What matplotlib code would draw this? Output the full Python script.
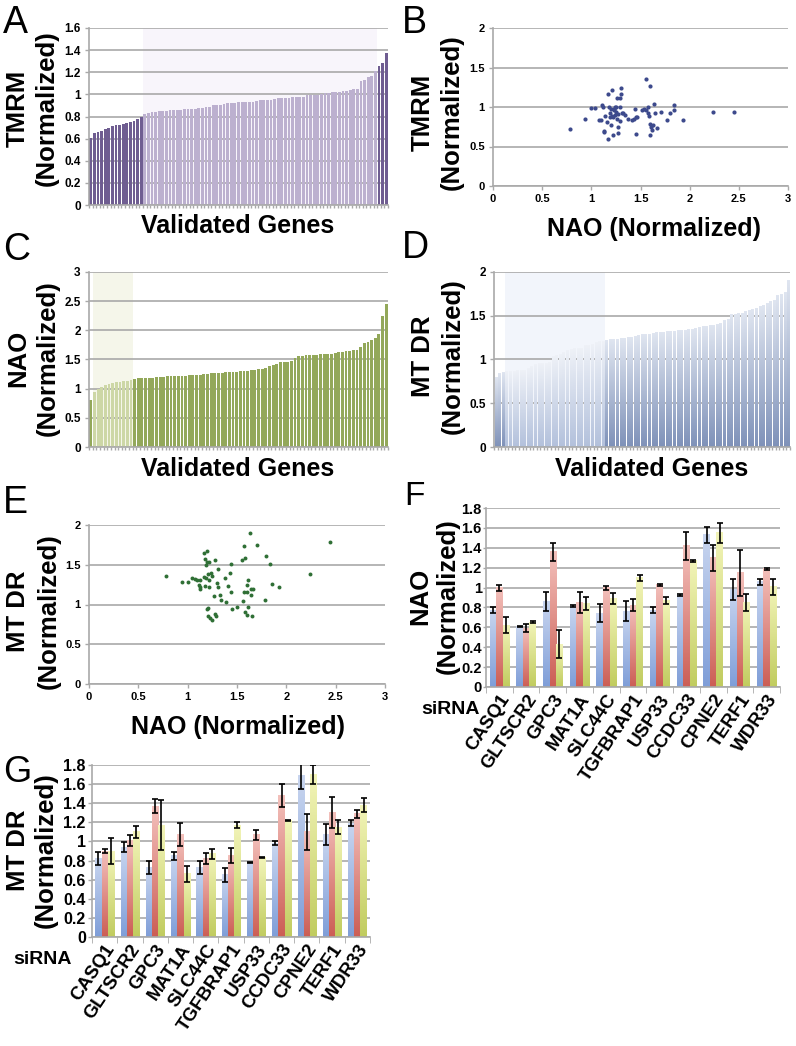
import numpy as np
import matplotlib
matplotlib.use('Agg')
import matplotlib.pyplot as plt
from matplotlib.colors import LinearSegmentedColormap
from matplotlib.ticker import FuncFormatter

plt.rcParams['font.family'] = ['Liberation Sans', 'DejaVu Sans']
plt.rcParams['font.weight'] = 'bold'

# ---------------- data ----------------
# Panel A: TMRM (sorted), groups: low / middle / high
tmrm_low = [0.61, 0.65, 0.66, 0.67, 0.69, 0.70, 0.71, 0.72, 0.72, 0.73, 0.74, 0.75, 0.76, 0.78, 0.80]
tmrm_mid = [0.82, 0.83, 0.84, 0.84, 0.85, 0.85, 0.85, 0.86, 0.86, 0.86,
            0.86, 0.87, 0.87, 0.87, 0.87, 0.88, 0.88, 0.89, 0.89, 0.90,
            0.90, 0.90, 0.91, 0.92, 0.92, 0.92, 0.93, 0.93, 0.93, 0.93,
            0.93, 0.94, 0.95, 0.95, 0.95, 0.95, 0.96, 0.97, 0.97, 0.97,
            0.97, 0.98, 0.98, 0.98, 0.98, 0.99, 0.99, 0.99, 0.99, 1.00,
            1.01, 1.01, 1.02, 1.02, 1.02, 1.03, 1.03, 1.04, 1.05, 1.05,
            1.12, 1.13, 1.16, 1.17, 1.21]
tmrm_high = [1.26, 1.28, 1.37]

# Panel C: NAO (sorted)
nao_low = [0.80]
nao_mid = [0.95, 1.00, 1.03, 1.06, 1.08, 1.10, 1.11, 1.12, 1.13, 1.13, 1.14]
nao_high = [1.17, 1.18, 1.18, 1.18, 1.19, 1.19, 1.20, 1.20, 1.20, 1.21,
            1.21, 1.21, 1.22, 1.22, 1.22, 1.23, 1.23, 1.24, 1.24, 1.25,
            1.25, 1.26, 1.26, 1.27, 1.27, 1.28, 1.28, 1.29, 1.29, 1.30,
            1.31, 1.31, 1.32, 1.32, 1.33, 1.34, 1.36, 1.39, 1.41, 1.43,
            1.45, 1.46, 1.46, 1.47, 1.53, 1.56, 1.56, 1.57, 1.57, 1.58,
            1.58, 1.59, 1.59, 1.59, 1.60, 1.61, 1.62, 1.63, 1.64, 1.65,
            1.66, 1.67, 1.72, 1.78, 1.80, 1.84, 1.86, 1.93, 2.24, 2.45]

# Panel D: MT DR (sorted)
mtdr_low = [0.80, 0.84, 0.85]
mtdr_mid = [0.86, 0.86, 0.86, 0.87, 0.87, 0.88, 0.90, 0.92, 0.94, 0.95,
            0.96, 0.96, 0.97, 1.04, 1.05, 1.06, 1.08, 1.10, 1.11, 1.12,
            1.12, 1.13, 1.16, 1.16, 1.17, 1.19, 1.20, 1.21]
mtdr_high = [1.22, 1.23, 1.23, 1.23, 1.24, 1.24, 1.25, 1.25, 1.26, 1.27,
             1.28, 1.28, 1.29, 1.30, 1.31, 1.31, 1.31, 1.32, 1.32, 1.32,
             1.33, 1.33, 1.33, 1.34, 1.34, 1.35, 1.37, 1.38, 1.38, 1.39,
             1.39, 1.40, 1.41, 1.44, 1.46, 1.51, 1.51, 1.52, 1.53, 1.55,
             1.56, 1.57, 1.58, 1.60, 1.62, 1.64, 1.66, 1.67, 1.73, 1.74,
             1.76, 1.90]

# Panel B: NAO vs TMRM
nao_b = [0.78, 0.94, 1.00, 1.04, 1.11, 1.12, 1.08, 1.10, 1.13, 1.13, 1.14, 1.17, 1.21,
         1.18, 1.19, 1.16, 1.17, 1.22, 1.20, 1.22, 1.23, 1.25, 1.24, 1.26, 1.27, 1.27,
         1.26, 1.29, 1.30, 1.30, 1.29, 1.29, 1.31, 1.34, 1.37, 1.41, 1.43, 1.44, 1.45,
         1.46, 1.45, 1.52, 1.54, 1.56, 1.56, 1.58, 1.58, 1.59, 1.60, 1.60, 1.61, 1.60,
         1.62, 1.63, 1.64, 1.65, 1.67, 1.71, 1.77, 1.80, 1.84, 1.84, 1.93, 2.24, 2.45,
         1.20, 1.23, 1.25, 1.19, 1.21, 1.24, 1.27, 1.32]
tmrm_b = [0.72, 0.85, 0.99, 0.99, 1.03, 1.00, 0.84, 0.84, 0.70, 0.68, 0.89, 1.16, 1.21,
          1.00, 0.92, 0.81, 0.60, 0.64, 0.77, 0.87, 0.97, 1.00, 0.90, 0.85, 0.67, 0.75,
          1.11, 1.11, 1.17, 1.24, 1.00, 0.82, 0.92, 0.90, 0.85, 0.84, 0.85, 0.98, 0.87,
          0.87, 0.66, 0.96, 0.97, 1.36, 0.96, 1.00, 0.93, 0.89, 1.27, 0.79, 0.75, 0.64,
          0.71, 0.77, 1.04, 0.92, 0.74, 0.94, 0.84, 0.92, 1.03, 0.96, 0.84, 0.94, 0.94,
          0.98, 0.96, 0.94, 0.87, 0.89, 1.00, 0.91, 0.93]

# Panel E: NAO vs MT DR
nao_e = [0.78, 0.94, 1.00, 1.04, 1.07, 1.09, 1.12, 1.11, 1.12, 1.13, 1.17, 1.20, 1.18,
         1.20, 1.22, 1.19, 1.17, 1.19, 1.18, 1.22, 1.21, 1.22, 1.24, 1.25, 1.21, 1.20,
         1.21, 1.23, 1.25, 1.28, 1.29, 1.27, 1.28, 1.30, 1.31, 1.31, 1.33, 1.34, 1.38,
         1.39, 1.41, 1.43, 1.44, 1.44, 1.45, 1.50, 1.55, 1.56, 1.57, 1.57, 1.58, 1.58,
         1.60, 1.60, 1.60, 1.61, 1.61, 1.63, 1.64, 1.64, 1.65, 1.66, 1.70, 1.78, 1.79,
         1.83, 1.85, 1.93, 2.24, 2.44]
mtdr_e = [1.36, 1.28, 1.28, 1.33, 1.32, 1.31, 1.31, 1.25, 1.22, 1.20, 1.65, 1.67, 1.57,
          1.53, 1.54, 1.50, 1.35, 1.33, 1.23, 1.22, 1.38, 1.31, 1.40, 1.36, 0.96, 0.94,
          0.86, 0.83, 0.81, 0.88, 0.86, 1.11, 1.56, 1.27, 1.22, 1.45, 1.12, 1.06, 1.33,
          1.03, 1.23, 1.39, 1.16, 1.51, 0.94, 0.97, 1.56, 1.04, 1.16, 1.74, 1.59, 0.91,
          0.87, 1.16, 1.25, 1.31, 0.97, 1.90, 1.12, 1.20, 0.86, 1.20, 1.75, 1.06, 1.61,
          1.51, 1.26, 1.22, 1.38, 1.78]

# Panels F, G: siRNA validation
genes = ['CASQ1', 'GLTSCR2', 'GPC3', 'MAT1A', 'SLC44C', 'TGFBRAP1', 'USP33',
         'CCDC33', 'CPNE2', 'TERF1', 'WDR33']
nao_si1 = [0.77, 0.61, 0.86, 0.81, 0.74, 0.76, 0.77, 0.93, 1.53, 0.98, 1.06]
nao_si2 = [1.00, 0.59, 1.36, 0.85, 1.00, 0.82, 1.03, 1.42, 1.30, 1.15, 1.19]
nao_si3 = [0.62, 0.65, 0.43, 0.84, 0.89, 1.10, 0.87, 1.27, 1.55, 0.85, 1.01]
nao_err1 = [0.03, 0.005, 0.10, 0.01, 0.09, 0.10, 0.03, 0.01, 0.08, 0.11, 0.03]
nao_err2 = [0.03, 0.04, 0.09, 0.11, 0.02, 0.06, 0.01, 0.14, 0.13, 0.23, 0.01]
nao_err3 = [0.08, 0.01, 0.14, 0.07, 0.06, 0.03, 0.04, 0.01, 0.10, 0.09, 0.08]

mtdr_si1 = [0.82, 0.94, 0.73, 0.85, 0.73, 0.65, 0.78, 0.98, 1.69, 1.07, 1.19]
mtdr_si2 = [0.90, 1.01, 1.37, 1.07, 0.82, 0.85, 1.07, 1.48, 1.10, 1.30, 1.29]
mtdr_si3 = [0.90, 1.10, 1.17, 0.66, 0.87, 1.17, 0.83, 1.22, 1.70, 1.15, 1.38]
mtdr_err1 = [0.07, 0.05, 0.07, 0.04, 0.07, 0.07, 0.01, 0.02, 0.14, 0.11, 0.03]
mtdr_err2 = [0.02, 0.06, 0.07, 0.12, 0.06, 0.08, 0.05, 0.12, 0.19, 0.16, 0.04]
mtdr_err3 = [0.14, 0.06, 0.26, 0.08, 0.05, 0.03, 0.005, 0.005, 0.10, 0.07, 0.07]

# ---------------- figure ----------------
W, H = 796, 1046
fig = plt.figure(figsize=(W / 100, H / 100), dpi=100)
GRID = '#a9a9a9'
fmt = FuncFormatter(lambda v, p: f'{v:g}')


def add_ax(x0, y0, x1, y1):
    return fig.add_axes([x0 / W, 1 - y1 / H, (x1 - x0) / W, (y1 - y0) / H])


def style(ax, ticks, tsize=8.5, pad=3, tlen=3):
    for s in ['top', 'right']:
        ax.spines[s].set_visible(False)
    for s in ['left', 'bottom']:
        ax.spines[s].set_color(GRID)
        ax.spines[s].set_linewidth(1.2)
    ax.set_yticks(ticks)
    ax.set_ylim(ticks[0], ticks[-1])
    ax.yaxis.set_major_formatter(fmt)
    ax.yaxis.grid(True, color=GRID, lw=1.2)
    ax.set_axisbelow(True)
    ax.tick_params(axis='both', length=tlen, color=GRID, width=1, labelsize=tsize, pad=pad)


def grad_fill(ax, bars, top, bottom, z=2):
    cmap = LinearSegmentedColormap.from_list('g', [bottom, top])
    grad = np.linspace(0, 1, 64).reshape(-1, 1)
    for b in bars:
        x0, w, h = b.get_x(), b.get_width(), b.get_height()
        ax.imshow(grad, cmap=cmap, extent=[x0, x0 + w, 0, h], origin='lower',
                  aspect='auto', zorder=z, interpolation='bilinear')
        b.set_facecolor('none')


def sorted_bars(ax, groups, colors, width, shade, shade_idx, grads=None):
    vals = [v for g in groups for v in g]
    n = len(vals)
    x = np.arange(n)
    start = 0
    for gi, g in enumerate(groups):
        xs = x[start:start + len(g)]
        bars = ax.bar(xs, g, width, color=colors[gi], edgecolor='none', zorder=2)
        if grads is not None:
            grad_fill(ax, bars, grads[gi][0], grads[gi][1])
        start += len(g)
    a, b = shade_idx
    ax.axvspan(a - 0.5, b - 0.5, color=shade, zorder=0.5, lw=0)
    ax.set_xlim(-0.5, n - 0.5)
    ax.set_xticks(np.arange(n + 1) - 0.5)
    ax.set_xticklabels([])
    ax.tick_params(axis='x', length=2)
    ax.set_aspect('auto')


# ----- Panel A -----
axA = add_ax(89, 28, 388, 205)
style(axA, np.arange(0, 1.61, 0.2))
sorted_bars(axA, [tmrm_low, tmrm_mid, tmrm_high], ['#6f5d91', '#bcb0cf', '#6f5d91'], 0.78,
            '#f8f5fb', (len(tmrm_low), len(tmrm_low) + len(tmrm_mid)))
axA.set_ylim(0, 1.6)

# ----- Panel C -----
axC = add_ax(89, 272, 388, 447)
style(axC, np.arange(0, 3.01, 0.5))
sorted_bars(axC, [nao_low, nao_mid, nao_high], ['#93a85a', '#cdd7a6', '#93a85a'], 0.78,
            '#f5f6ea', (len(nao_low), len(nao_low) + len(nao_mid)))
axC.set_ylim(0, 3)

# ----- Panel D -----
axD = add_ax(494, 272, 790, 447)
style(axD, np.arange(0, 2.01, 0.5))
sorted_bars(axD, [mtdr_low, mtdr_mid, mtdr_high], ['none'] * 3, 0.6,
            '#f2f5fb', (len(mtdr_low), len(mtdr_low) + len(mtdr_mid)),
            grads=[('#dfe5f0', '#7f92b9'), ('#eef1f7', '#b3c1dc'), ('#dfe5f0', '#7f92b9')])
axD.set_ylim(0, 2)

# ----- Panel B -----
axB = add_ax(493, 28, 788, 186)
style(axB, np.arange(0, 2.01, 0.5), tsize=8)
axB.scatter(nao_b, tmrm_b, s=9, color='#3d4a8c', linewidths=0, zorder=3)
axB.set_xlim(0, 3)
axB.set_xticks(np.arange(0, 3.01, 0.5))
axB.xaxis.set_major_formatter(fmt)

# ----- Panel E -----
axE = add_ax(89, 525, 385, 684)
style(axE, np.arange(0, 2.01, 0.5), tsize=8)
axE.scatter(nao_e, mtdr_e, s=8, color='#2f6f35', linewidths=0, zorder=3)
axE.set_xlim(0, 3)
axE.set_xticks(np.arange(0, 3.01, 0.5))
axE.xaxis.set_major_formatter(fmt)

# ----- Panels F, G -----
BLUE = ('#c8d5ef', '#7f9ed8')
RED = ('#f3c0bb', '#cc5e55')
YEL = ('#f2f4b8', '#c1cc5f')


def grouped(ax, series, errs):
    x = np.arange(len(genes))
    w = 0.245
    for off, vals, er, (top, bot) in zip([-w, 0, w], series, errs, [BLUE, RED, YEL]):
        bars = ax.bar(x + off, vals, w, color='none', edgecolor='none', zorder=2)
        grad_fill(ax, bars, top, bot)
        ax.errorbar(x + off, vals, yerr=er, fmt='none', ecolor='black',
                    elinewidth=1.2, capsize=2.3, capthick=1.2, zorder=4)
    ax.set_xlim(-0.5, len(genes) - 0.5)
    ax.set_aspect('auto')
    ax.set_xticks(x)
    ax.set_xticklabels(genes, rotation=56, ha='right', va='top', rotation_mode='anchor',
                       fontsize=13.5)
    ax.set_xticks(np.arange(len(genes) + 1) - 0.5, minor=True)
    ax.tick_params(axis='x', which='major', length=0, pad=3)
    ax.tick_params(axis='x', which='minor', length=4, color=GRID)


axF = add_ax(486, 508, 780, 687)
style(axF, np.arange(0, 1.81, 0.2), tsize=10.5, pad=1, tlen=2)
grouped(axF, [nao_si1, nao_si2, nao_si3], [nao_err1, nao_err2, nao_err3])
axF.set_ylim(0, 1.8)

axG = add_ax(92, 765, 370, 937)
style(axG, np.arange(0, 1.81, 0.2), tsize=11.5, pad=1.5)
grouped(axG, [mtdr_si1, mtdr_si2, mtdr_si3], [mtdr_err1, mtdr_err2, mtdr_err3])
axG.set_ylim(0, 1.8)

# ---------------- texts ----------------
def ylab(x1, x2, y, l1, l2, size=18.5):
    for x, s in ((x1, l1), (x2, l2)):
        fig.text(x / W, 1 - y / H, s, rotation=90, ha='center', va='center',
                 fontsize=size, fontweight='bold')


def flab(x, y, s, size=18):
    fig.text(x / W, 1 - y / H, s, ha='center', va='center', fontsize=size, fontweight='bold')


def letter(x, y, s, size=27):
    fig.text(x / W, 1 - y / H, s, ha='left', va='baseline', fontsize=size, fontweight='normal')


ylab(18, 47, 108, 'TMRM', '(Normalized)')
ylab(423, 452, 112, 'TMRM', '(Normalized)')
ylab(18, 48, 358, 'NAO', '(Normalized)')
ylab(423, 453, 356, 'MT DR', '(Normalized)')
ylab(18, 49, 611, 'MT DR', '(Normalized)')
ylab(420, 448, 596, 'NAO', '(Normalized)')
ylab(18, 46, 850, 'MT DR', '(Normalized)')

flab(238, 226, 'Validated Genes')
flab(654, 229, 'NAO (Normalized)')
flab(238, 469, 'Validated Genes')
flab(652, 469, 'Validated Genes')
flab(238, 727, 'NAO (Normalized)')

fig.text(421 / W, 1 - 710 / H, 'siRNA', ha='left', va='center', fontsize=14, fontweight='bold')
fig.text(13 / W, 1 - 960 / H, 'siRNA', ha='left', va='center', fontsize=14, fontweight='bold')

letter(3, 33, 'A')
letter(402, 33, 'B')
letter(3, 260, 'C')
letter(402, 258, 'D')
letter(3, 513, 'E')
letter(404, 505, 'F', size=24)
letter(3, 782, 'G', size=26)

fig.savefig('out.png', dpi=100)
